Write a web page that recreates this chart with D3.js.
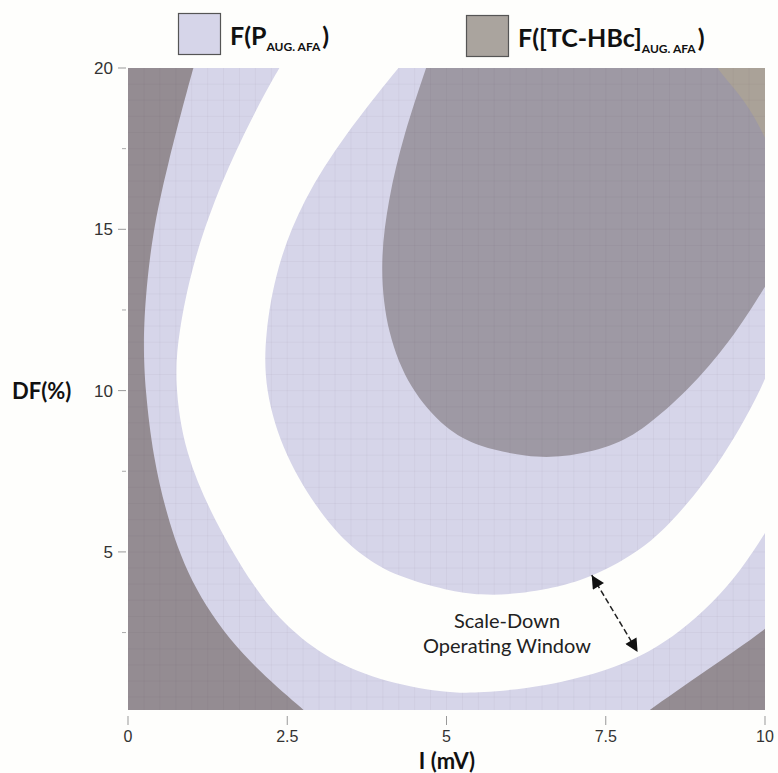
<!DOCTYPE html>
<html>
<head>
<meta charset="utf-8">
<script src="https://cdn.jsdelivr.net/npm/d3@7"></script>
<style>
  html, body { margin: 0; padding: 0; background: #fefefc; }
  svg { display: block; }
</style>
</head>
<body>
<svg id="chart" width="778" height="773"></svg>
<script>
// ---- data (I in mV, DF in %) ----
const xTicks = [0, 2.5, 5, 7.5, 10];
const xTickLabels = ["0", "2.5", "5", "7.5", "10"];
const yTicks = [5, 10, 15, 20];
const yTickLabels = ["5", "10", "15", "20"];
const yMinorTicks = [2.5, 7.5, 12.5, 17.5];

// boundary of the outer TC-HBc region (left-bottom corner)
const outerLeftEdge = [[1.12,20.6],[1.02,20.0],[0.61,16.93],[0.38,14.85],[0.27,12.81],[0.24,11.4],[0.27,10.05],[0.39,7.97],[0.63,5.93],[1.02,3.85],[1.77,1.77],[2.78,0.07],[2.98,-0.3]];
// boundary of the outer TC-HBc region (right-bottom corner)
const outerRightEdge = [[7.95,-0.3],[8.16,0.07],[8.59,0.66],[9.06,1.30],[9.53,1.94],[10.0,2.6],[10.3,3.1]];
// outer edge of the operating window
const windowOuterEdge = [[2.58,20.6],[2.36,20.0],[1.81,17.95],[1.35,15.91],[1.00,13.83],[0.79,11.75],[0.73,10.3],[0.88,8.1],[1.36,5.93],[1.99,3.85],[2.42,2.83],[3.03,1.80],[3.93,1.0],[4.98,0.63],[5.50,0.62],[6.55,0.82],[7.60,1.36],[8.20,1.92],[8.65,2.50],[9.17,3.40],[9.61,4.40],[10.0,5.56],[10.3,6.6]];
// inner edge of the operating window
const windowInnerEdge = [[4.5,20.6],[4.24,20.0],[3.41,17.95],[2.74,15.91],[2.33,13.83],[2.15,11.75],[2.14,10.05],[2.45,7.97],[3.10,5.93],[3.66,4.87],[4.24,4.22],[5.02,3.80],[5.53,3.66],[6.11,3.68],[6.89,3.97],[7.28,4.25],[7.68,4.63],[8.12,5.18],[8.50,5.85],[9.22,7.50],[10.0,10.17],[10.31,12.0]];
// inner TC-HBc region edge
const innerTanEdge = [[4.78,20.6],[4.68,20.0],[4.33,17.95],[4.08,15.91],[3.95,13.83],[4.07,11.75],[4.42,10.05],[4.98,8.80],[5.50,8.25],[6.28,7.94],[6.81,7.92],[7.60,8.25],[8.12,8.84],[8.79,10.0],[9.45,11.5],[10.0,13.21],[10.3,14.2]];
// top-right edge of the P region (tan-only corner)
const cornerEdge = [[9.1,20.6],[9.22,20.0],[9.69,19.01],[10.0,17.86],[10.2,17.0]];

// annotation
const arrowEnds = [[7.28,4.28],[8.0,1.9]];
const noteLines = ["Scale-Down", "Operating Window"];
const noteAnchor = [5.95, 2.64];

const colors = {
  lavender: "#d6d5e9",
  outerDark: "#948c92",
  innerDark: "#9e99a4",
  tan: "#aaa298",
  legendTan: "#aaa49e",
  white: "#fefefc"
};

// ---- layout ----
const svg = d3.select("#chart");
const x = d3.scaleLinear().domain([0, 10]).range([128, 765]);
const y = d3.scaleLinear().domain([0.1, 20]).range([710, 68]);
const X0 = x(0), X1 = x(10), Y0 = y(20), Y1 = y(0.1);

const curveLine = d3.line().x(d => x(d[0])).y(d => y(d[1])).curve(d3.curveBasis);
const straight = d3.line().x(d => x(d[0])).y(d => y(d[1]));
function joinPaths(...segs) {
  return segs.map((s, i) => i === 0 ? s : s.replace(/^M/, "L")).join("") + "Z";
}

const defs = svg.append("defs");
defs.append("clipPath").attr("id", "plotclip")
  .append("rect").attr("x", X0).attr("y", Y0).attr("width", X1 - X0).attr("height", Y1 - Y0);

const whitePath = joinPaths(curveLine(windowOuterEdge), curveLine(windowInnerEdge.slice().reverse()));
const rectPath = `M${X0},${Y0}H${X1}V${Y1}H${X0}Z`;
defs.append("clipPath").attr("id", "gridclip")
  .append("path").attr("d", rectPath + whitePath).attr("clip-rule", "evenodd");

defs.append("marker").attr("id", "arrowhead")
  .attr("viewBox", "0 0 10 10").attr("refX", 10).attr("refY", 5)
  .attr("markerWidth", 14).attr("markerHeight", 13).attr("markerUnits", "userSpaceOnUse")
  .attr("orient", "auto-start-reverse")
  .append("path").attr("d", "M0,0L10,5L0,10Z").attr("fill", "#111");

const plot = svg.append("g").attr("clip-path", "url(#plotclip)");
plot.append("rect").attr("x", X0).attr("y", Y0).attr("width", X1 - X0).attr("height", Y1 - Y0)
  .attr("fill", colors.lavender);
plot.append("path").attr("d", whitePath).attr("fill", colors.white);
plot.append("path")
  .attr("d", joinPaths(curveLine(outerLeftEdge), straight([[-0.5, -0.5], [-0.5, 20.5]])))
  .attr("fill", colors.outerDark);
plot.append("path")
  .attr("d", joinPaths(curveLine(outerRightEdge), straight([[10.5, 3.3], [10.5, -0.5]])))
  .attr("fill", colors.outerDark);
plot.append("path")
  .attr("d", joinPaths(curveLine(innerTanEdge), straight([[10.5, 14], [10.5, 20.7]])))
  .attr("fill", colors.innerDark);
plot.append("path")
  .attr("d", joinPaths(curveLine(cornerEdge), straight([[10.5, 17], [10.5, 20.7]])))
  .attr("fill", colors.tan);

// faint grid
const grid = plot.append("g").attr("clip-path", "url(#gridclip)")
  .attr("stroke", "rgba(70,60,80,0.04)").attr("stroke-width", 1);
grid.selectAll("line.v").data(d3.range(0.25, 10, 0.25)).join("line").attr("class", "v")
  .attr("x1", d => x(d)).attr("x2", d => x(d)).attr("y1", Y0).attr("y2", Y1);
grid.selectAll("line.h").data(d3.range(0.5, 20, 0.5)).join("line").attr("class", "h")
  .attr("x1", X0).attr("x2", X1).attr("y1", d => y(d)).attr("y2", d => y(d));

// ---- axes ----
const xAxis = svg.append("g");
xAxis.selectAll("line").data(xTicks).join("line")
  .attr("x1", d => x(d)).attr("x2", d => x(d)).attr("y1", 716).attr("y2", 725)
  .attr("stroke", "#999").attr("stroke-width", 1);
xAxis.selectAll("text").data(xTicks).join("text")
  .attr("x", d => x(d)).attr("y", 742).attr("text-anchor", "middle")
  .attr("font-family", "'Liberation Sans', Arial, sans-serif").attr("font-size", 16).attr("fill", "#333")
  .text((d, i) => xTickLabels[i]);

const yAxis = svg.append("g");
yAxis.selectAll("line.major").data(yTicks).join("line").attr("class", "major")
  .attr("x1", 118).attr("x2", 126).attr("y1", d => y(d)).attr("y2", d => y(d))
  .attr("stroke", "#999").attr("stroke-width", 1);
yAxis.selectAll("line.minor").data(yMinorTicks).join("line").attr("class", "minor")
  .attr("x1", 122).attr("x2", 126).attr("y1", d => y(d)).attr("y2", d => y(d))
  .attr("stroke", "#aaa").attr("stroke-width", 1);
yAxis.selectAll("text").data(yTicks).join("text")
  .attr("x", 113).attr("y", d => y(d) + 6).attr("text-anchor", "end")
  .attr("font-family", "'Liberation Sans', Arial, sans-serif").attr("font-size", 17).attr("fill", "#333")
  .text((d, i) => yTickLabels[i]);

svg.append("text").attr("x", 447).attr("y", 769).attr("text-anchor", "middle")
  .attr("font-family", "Lato, 'Open Sans', sans-serif").attr("font-weight", "bold").attr("font-size", 22)
  .attr("fill", "#111").text("I (mV)");
svg.append("text").attr("x", 12).attr("y", 399)
  .attr("font-family", "Lato, 'Open Sans', sans-serif").attr("font-weight", "bold").attr("font-size", 22)
  .attr("fill", "#111").text("DF(%)");

// ---- legend ----
const legendItems = [
  { fill: colors.lavender, main: "F(P", sub: "AUG. AFA", close: ")", bx: 178, by: 13 },
  { fill: colors.legendTan, main: "F([TC-HBc]", sub: "AUG. AFA", close: ")", bx: 466, by: 15 }
];
const legend = svg.append("g");
legendItems.forEach(it => {
  legend.append("rect").attr("x", it.bx + 0.5).attr("y", it.by + 0.5).attr("width", 42).attr("height", 41)
    .attr("fill", it.fill).attr("stroke", "#555").attr("stroke-width", 1.2);
  const t = legend.append("text").attr("x", it.bx + 52).attr("y", it.by + 32)
    .attr("font-family", "Lato, 'Open Sans', sans-serif").attr("font-weight", "bold").attr("font-size", 25)
    .attr("fill", "#111");
  t.append("tspan").text(it.main);
  t.append("tspan").attr("font-size", 12).attr("dy", 6).text(it.sub);
  t.append("tspan").attr("dy", -6).attr("dx", 2).text(it.close);
});

// ---- annotation ----
svg.append("line")
  .attr("x1", x(arrowEnds[0][0])).attr("y1", y(arrowEnds[0][1]))
  .attr("x2", x(arrowEnds[1][0])).attr("y2", y(arrowEnds[1][1]))
  .attr("stroke", "#222").attr("stroke-width", 1.5).attr("stroke-dasharray", "6,3")
  .attr("marker-start", "url(#arrowhead)").attr("marker-end", "url(#arrowhead)");
const note = svg.append("text").attr("text-anchor", "middle")
  .attr("font-family", "Lato, 'Open Sans', sans-serif").attr("font-size", 20).attr("fill", "#222");
noteLines.forEach((ln, i) => {
  note.append("tspan").attr("x", x(noteAnchor[0])).attr("y", y(noteAnchor[1]) + i * 25).text(ln);
});
</script>
</body>
</html>
